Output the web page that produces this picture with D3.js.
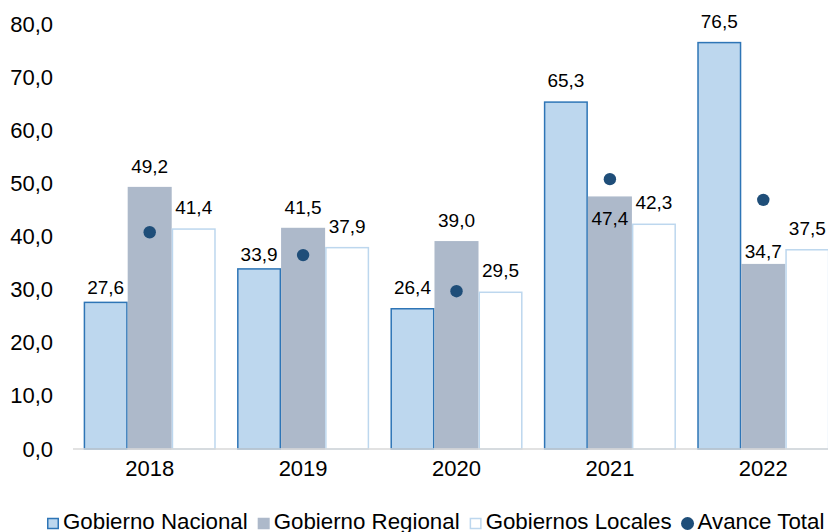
<!DOCTYPE html>
<html>
<head>
<meta charset="utf-8">
<script src="https://cdn.jsdelivr.net/npm/d3@7"></script>
<style>
  body { margin: 0; background: #fff; }
  text { font-family: "Liberation Sans", Arial, sans-serif; fill: #000; }
</style>
</head>
<body>
<div id="chart"></div>
<script>
var width = 828;
var height = 532;

// data
var years = ["2018", "2019", "2020", "2021", "2022"];
var series = ["Gobierno Nacional", "Gobierno Regional", "Gobiernos Locales"];
var nacional = [27.6, 33.9, 26.4, 65.3, 76.5];
var regional = [49.2, 41.5, 39.0, 47.4, 34.7];
var locales = [41.4, 37.9, 29.5, 42.3, 37.5];
var avanceTotal = [40.8, 36.5, 29.7, 50.8, 46.9];
var yTicks = [0, 10, 20, 30, 40, 50, 60, 70, 80];

var fills = ["#BDD7EE", "#ADB9CA", "#FFFFFF"];
var strokes = ["#2E75B6", "#ADB9CA", "#BDD7EE"];
var dotColor = "#1F4E79";

// small manual nudges of the value labels (as placed in the original)
var labelNudge = { "0-2018": 7, "0-2019": 7, "1-2021": 43, "1-2022": 8 };

var fmt = function(v){ return d3.format(".1f")(v).replace(".", ","); };

var svg = d3.select("#chart")
    .append("svg")
    .attr("width", width)
    .attr("height", height);

var x0 = d3.scaleBand().domain(years).range([73, 840]).padding(0);
var barW = x0.bandwidth() * 0.287;
var gap = (x0.bandwidth() - 3 * barW) / 2;
var x1 = d3.scaleBand().domain(d3.range(3)).range([gap, gap + 3 * barW]).padding(0);
var y = d3.scaleLinear().domain([0, 80]).range([449, 24]);

// y axis labels (no line, no grid)
var yAxis = svg.append("g")
    .attr("transform", "translate(53,0)")
    .call(d3.axisLeft(y).tickValues(yTicks).tickSize(0).tickPadding(0).tickFormat(fmt));
yAxis.select(".domain").remove();
yAxis.selectAll("text")
    .attr("font-size", "22px")
    .attr("fill", "#000")
    .style("font-family", "'Liberation Sans', Arial, sans-serif");

// bars
var rows = [];
years.forEach(function(yr, i){
    [nacional[i], regional[i], locales[i]].forEach(function(v, s){
        rows.push({ year: yr, s: s, v: v });
    });
});

var groups = svg.selectAll(".bar")
    .data(rows)
    .enter()
        .append("g")
        .attr("class", "bar");

groups.append("rect")
    .attr("x", function(d){ return x0(d.year) + x1(d.s) + 0.75; })
    .attr("y", function(d){ return y(d.v); })
    .attr("width", barW - 1.5)
    .attr("height", function(d){ return y(0) - y(d.v); })
    .attr("fill", function(d){ return fills[d.s]; })
    .attr("stroke", function(d){ return strokes[d.s]; })
    .attr("stroke-width", 1.5);

// x axis line
svg.append("line")
    .attr("x1", 73).attr("x2", 840)
    .attr("y1", 449).attr("y2", 449)
    .attr("stroke", "#D9D9D9")
    .attr("stroke-width", 1.5);

// x axis labels
var xAxis = svg.append("g")
    .attr("transform", "translate(0,460)")
    .call(d3.axisBottom(x0).tickSize(0).tickPadding(0));
xAxis.select(".domain").remove();
xAxis.selectAll("text")
    .attr("font-size", "22px")
    .attr("fill", "#000")
    .attr("dy", "0.72em")
    .style("font-family", "'Liberation Sans', Arial, sans-serif");

// value labels
groups.append("text")
    .attr("x", function(d){ return x0(d.year) + x1(d.s) + barW / 2; })
    .attr("y", function(d){
        var n = labelNudge[d.s + "-" + d.year] || 0;
        return y(d.v) - 15 + n;
    })
    .attr("text-anchor", "middle")
    .attr("font-size", "19px")
    .text(function(d){ return fmt(d.v); });

// avance total dots
svg.selectAll(".dot")
    .data(avanceTotal)
    .enter()
        .append("circle")
        .attr("class", "dot")
        .attr("cx", function(d, i){ return x0(years[i]) + x0.bandwidth() / 2; })
        .attr("cy", function(d){ return y(d); })
        .attr("r", 6.2)
        .attr("fill", dotColor);

// legend
var legend = svg.append("g").attr("transform", "translate(47,529)");
var legendItems = series.concat(["Avance Total"]);
var lx = 0;
legendItems.forEach(function(name, i){
    var item = legend.append("g").attr("transform", "translate(" + lx + ",0)");
    if (i < 3) {
        item.append("rect")
            .attr("x", 0.75).attr("y", -10.5)
            .attr("width", 10.5).attr("height", 10)
            .attr("fill", fills[i])
            .attr("stroke", strokes[i])
            .attr("stroke-width", 1.5);
    } else {
        item.append("circle")
            .attr("cx", 6).attr("cy", -5.5)
            .attr("r", 6.5)
            .attr("fill", dotColor);
    }
    var t = item.append("text")
        .attr("x", 16)
        .attr("font-size", "22.3px")
        .text(name);
    lx += 16 + t.node().getComputedTextLength() + 10;
});
</script>
</body>
</html>
